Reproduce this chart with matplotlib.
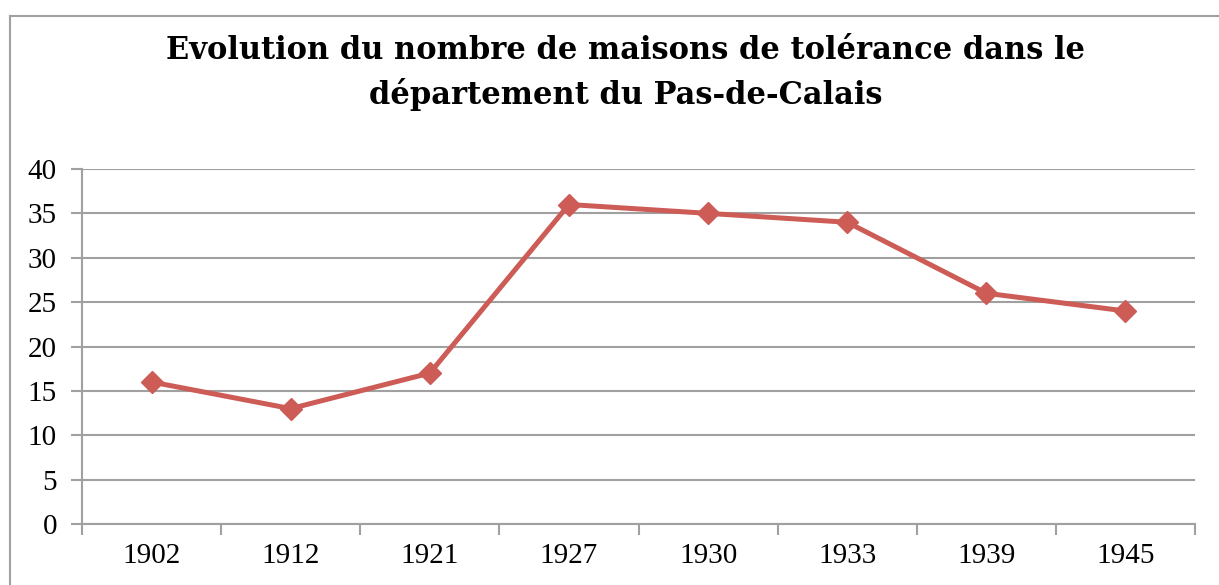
import matplotlib.pyplot as plt
from matplotlib.lines import Line2D

years = ["1902", "1912", "1921", "1927", "1930", "1933", "1939", "1945"]
maisons = [16, 13, 17, 36, 35, 34, 26, 24]

fig = plt.figure(figsize=(12.19, 5.85), dpi=100)
ax = fig.add_axes([82 / 1219, 1 - 524 / 585, (1195 - 82) / 1219, (524 - 169) / 585])

x = list(range(len(years)))
ax.plot(x, maisons, color="#cd5b56", lw=3.6, marker="D", ms=11, zorder=3)

ax.set_xlim(-0.5, len(years) - 0.5)
ax.set_ylim(0, 40)
ax.set_yticks(range(0, 41, 5))
ax.set_xticks(x)
ax.set_xticklabels(years)
ax.set_xticks([i - 0.5 for i in range(len(years) + 1)], minor=True)
ax.tick_params(axis="x", which="major", length=0, pad=14)
ax.tick_params(axis="x", which="minor", length=8, color="#a0a0a0", width=1.5)
ax.tick_params(axis="y", length=8, color="#a0a0a0", width=1.5, pad=10)
for lab in ax.get_xticklabels() + ax.get_yticklabels():
    lab.set_fontfamily("Liberation Serif")
    lab.set_fontsize(21)

ax.grid(axis="y", color="#a0a0a0", lw=1.5)
ax.set_axisbelow(True)
for s in ["top", "right"]:
    ax.spines[s].set_visible(False)
for s in ["left", "bottom"]:
    ax.spines[s].set_color("#a0a0a0")
    ax.spines[s].set_linewidth(1.5)

fig.text(0.513, 0.875, "Evolution du nombre de maisons de tolérance dans le\ndépartement du Pas-de-Calais",
         ha="center", va="center", fontsize=22, fontweight="bold",
         fontfamily="DejaVu Serif", linespacing=1.45)

# cadre autour du graphique
fig.add_artist(Line2D([10 / 1219, 10 / 1219], [0, 1 - 16 / 585], color="#a0a0a0", lw=1.5))
fig.add_artist(Line2D([10 / 1219, 1], [1 - 16 / 585, 1 - 16 / 585], color="#a0a0a0", lw=1.5))

fig.savefig("out.png", dpi=100)
